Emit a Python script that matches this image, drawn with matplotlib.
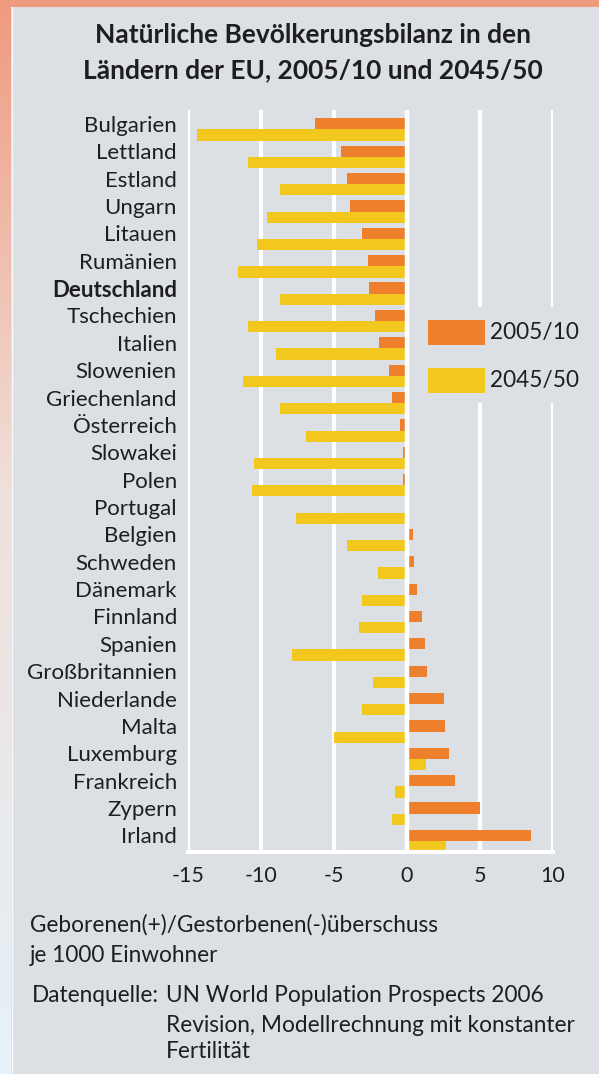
import numpy as np
import matplotlib
matplotlib.use("Agg")
import matplotlib.pyplot as plt
from matplotlib.patches import Rectangle

# ---------------- data ----------------
countries = ["Bulgarien", "Lettland", "Estland", "Ungarn", "Litauen", "Rumänien",
             "Deutschland", "Tschechien", "Italien", "Slowenien", "Griechenland",
             "Österreich", "Slowakei", "Polen", "Portugal", "Belgien", "Schweden",
             "Dänemark", "Finnland", "Spanien", "Großbritannien", "Niederlande",
             "Malta", "Luxemburg", "Frankreich", "Zypern", "Irland"]
val_2005 = [-6.3, -4.5, -4.1, -3.9, -3.1, -2.7, -2.6, -2.2, -1.9, -1.2, -1.0,
            -0.5, -0.3, -0.3, 0.0, 0.4, 0.5, 0.7, 1.0, 1.2, 1.35, 2.5, 2.6,
            2.9, 3.3, 5.0, 8.5]
val_2045 = [-14.4, -10.9, -8.7, -9.6, -10.3, -11.6, -8.7, -10.9, -9.0, -11.2,
            -8.7, -6.9, -10.5, -10.6, -7.6, -4.1, -2.0, -3.1, -3.3, -7.9, -2.3,
            -3.1, -5.0, 1.3, -0.8, -1.0, 2.7]
series_labels = ["2005/10", "2045/50"]
xtick_values = [-15, -10, -5, 0, 5, 10]
xtick_labels = ["-15", "-10", "-5", "0", "5", "10"]
title_lines = ["Natürliche Bevölkerungsbilanz in den",
               "Ländern der EU, 2005/10 und 2045/50"]

# ---------------- style ----------------
W, H = 599, 1074
ORANGE = "#EE7F2C"
YELLOW = "#F2C81F"
PANEL = "#DCE0E4"
SALMON = "#EF997D"
TXT = "#1e1e1e"
FONT = ["Lato", "DejaVu Sans"]
plt.rcParams["font.family"] = FONT

fig = plt.figure(figsize=(W / 100, H / 100), dpi=100)
fig.patch.set_facecolor(PANEL)

# background decoration in pixel coords
bg = fig.add_axes([0, 0, 1, 1], zorder=-10)
bg.set_xlim(0, W)
bg.set_ylim(H, 0)
bg.axis("off")
bg.add_patch(Rectangle((0, 0), W, 7, color=SALMON, lw=0))
c_top = np.array(matplotlib.colors.to_rgb("#EF9B80"))
c_mid = np.array(matplotlib.colors.to_rgb("#EFE0DA"))
c_bot = np.array(matplotlib.colors.to_rgb("#E6F2FA"))
t = np.linspace(0, 1, 256)[:, None]
grad = np.where(t < 0.45, c_top + (c_mid - c_top) * (t / 0.45),
                c_mid + (c_bot - c_mid) * ((t - 0.45) / 0.55))
bg.imshow(grad[:, None, :].repeat(2, axis=1), extent=[0, 11, H, 7], aspect="auto")
bg.plot([11.5, 11.5], [7, H], color="white", lw=1.0, alpha=0.8)

def fx(px):
    return px / W

def fy(py):
    return 1 - py / H

# ---------------- main axes ----------------
left, right, top, bottom = 188, 553, 110, 852
ax = fig.add_axes([fx(left), fy(bottom), fx(right - left), (bottom - top) / H])
ax.set_facecolor("none")

n = len(countries)
y = np.arange(n)
bh = 0.41
ax.barh(y - bh / 2, val_2005, height=bh, color=ORANGE, lw=0, zorder=2)
ax.barh(y + bh / 2, val_2045, height=bh, color=YELLOW, lw=0, zorder=2)
ax.axvline(0, color="white", lw=3.2, zorder=3)

ax.set_xlim(-15, 10)
ax.set_ylim(n - 1 + 0.40, -0.712)
ax.set_xticks(xtick_values)
ax.set_xticklabels(xtick_labels, fontsize=15.5, color=TXT)
ax.xaxis.grid(True, color="white", lw=3)
ax.set_axisbelow(True)
ax.tick_params(axis="x", length=0, pad=10)

ax.set_yticks(y - bh / 2)
ax.set_yticklabels(countries, fontsize=16, color=TXT)
ax.tick_params(axis="y", length=0, pad=8)
for lab in ax.get_yticklabels():
    if lab.get_text() == "Deutschland":
        lab.set_fontweight("bold")

for s in ["top", "left", "right"]:
    ax.spines[s].set_visible(False)
ax.spines["bottom"].set_color("white")
ax.spines["bottom"].set_linewidth(3)

# ---------------- legend (manual) ----------------
lax = fig.add_axes([0, 0, 1, 1], zorder=5)
lax.set_xlim(0, W)
lax.set_ylim(H, 0)
lax.axis("off")
lax.add_patch(Rectangle((418, 307), 181, 96, color=PANEL, lw=0))
lax.add_patch(Rectangle((428, 320), 57, 25, color=ORANGE, lw=0))
lax.add_patch(Rectangle((428, 368), 57, 25, color=YELLOW, lw=0))
lax.text(490, 333, series_labels[0], fontsize=16.3, color=TXT, va="center", ha="left")
lax.text(490, 381, series_labels[1], fontsize=16.3, color=TXT, va="center", ha="left")

# ---------------- titles and notes ----------------
lax.text(313, 35, title_lines[0], fontsize=19, fontweight="bold", color=TXT,
         ha="center", va="center")
lax.text(313, 70, title_lines[1], fontsize=19, fontweight="bold", color=TXT,
         ha="center", va="center")

note_fs = 16.3
lax.text(30, 925, "Geborenen(+)/Gestorbenen(-)überschuss", fontsize=note_fs,
         color=TXT, ha="left", va="center")
lax.text(30, 955, "je 1000 Einwohner", fontsize=note_fs, color=TXT,
         ha="left", va="center")
lax.text(32, 995, "Datenquelle:", fontsize=note_fs, color=TXT,
         ha="left", va="center")
lax.text(166, 995, "UN World Population Prospects 2006",
         fontsize=note_fs, color=TXT, ha="left", va="center")
lax.text(166, 1025, "Revision, Modellrechnung mit konstanter",
         fontsize=note_fs, color=TXT, ha="left", va="center")
lax.text(166, 1052, "Fertilität", fontsize=note_fs, color=TXT,
         ha="left", va="center")

fig.savefig("out.png", dpi=100, facecolor=fig.get_facecolor())
